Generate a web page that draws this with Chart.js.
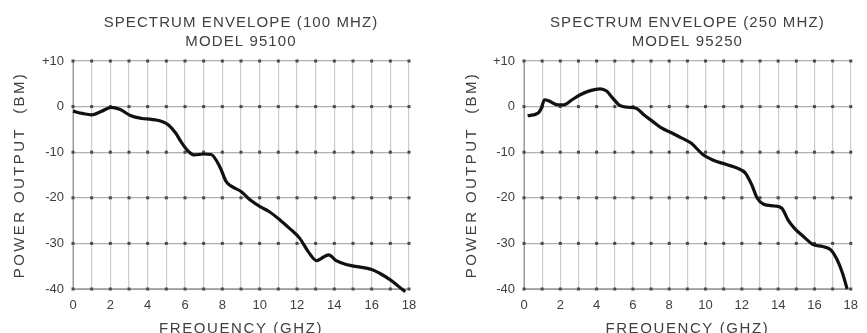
<!DOCTYPE html>
<html>
<head>
<meta charset="utf-8">
<script src="https://cdn.jsdelivr.net/npm/chart.js@4/dist/chart.umd.min.js"></script>
<style>
  html, body { margin: 0; padding: 0; background: #fff; overflow: hidden; width: 867px; height: 333px; }
  canvas { position: absolute; top: 0; }
</style>
</head>
<body>
<canvas id="c1" width="434" height="333" style="left:0px"></canvas>
<canvas id="c2" width="434" height="333" style="left:433px"></canvas>
<script>
// ---- data ----
const freqLeft = [0, 0.5, 1.0, 1.5, 2.05, 2.5, 3.1, 3.7, 4.2, 4.8, 5.1, 5.5, 5.8, 6.2, 6.5, 7.0, 7.4, 7.9, 8.2, 8.5, 9.0, 9.5, 10.0, 10.5, 11.1, 11.6, 12.15, 12.6, 13.05, 13.3, 13.7, 14.1, 14.7, 15.2, 16.0, 16.45, 17.0, 17.35, 17.8];
const powerLeft = [-1.0, -1.5, -1.8, -1.1, -0.15, -0.6, -2.0, -2.6, -2.8, -3.3, -4.0, -5.8, -7.8, -9.9, -10.6, -10.4, -10.5, -13.5, -16.4, -17.5, -18.6, -20.5, -21.9, -23.0, -24.9, -26.7, -28.9, -31.8, -33.8, -33.3, -32.5, -33.8, -34.7, -35.1, -35.7, -36.6, -38.0, -39.1, -40.6];

const freqRight = [0.2, 0.75, 0.95, 1.13, 1.4, 1.85, 2.2, 2.65, 3.1, 3.65, 4.2, 4.55, 4.9, 5.3, 5.75, 6.2, 6.6, 7.1, 7.5, 8.15, 8.7, 9.2, 9.85, 10.4, 11.15, 11.75, 12.2, 12.55, 12.85, 13.2, 13.8, 14.2, 14.55, 14.9, 15.45, 15.9, 16.45, 16.9, 17.25, 17.55, 17.8];
const powerRight = [-2.0, -1.5, -0.4, 1.5, 1.2, 0.4, 0.4, 1.5, 2.6, 3.5, 3.9, 3.4, 1.8, 0.2, -0.15, -0.4, -1.8, -3.3, -4.5, -5.8, -6.9, -8.0, -10.5, -11.7, -12.7, -13.5, -14.6, -17.2, -20.1, -21.4, -21.8, -22.3, -24.9, -26.7, -28.7, -30.2, -30.7, -31.4, -33.6, -36.6, -40.0];

const xTickLabels = ['0', '', '2', '', '4', '', '6', '', '8', '', '10', '', '12', '', '14', '', '16', '', '18'];
const yTickLabels = ['-40', '-30', '-20', '-10', '0', '+10'];

const titleLeft = ['SPECTRUM ENVELOPE (100 MHZ)', 'MODEL 95100'];
const titleRight = ['SPECTRUM ENVELOPE (250 MHZ)', 'MODEL 95250'];
const xAxisTitle = 'FREQUENCY (GHZ)';
const yAxisTitle = 'POWER OUTPUT  (BM)';

const FONT = '"Liberation Sans", Arial, sans-serif';
const TEXT = '#404040';

// draws chart titles, axis titles and grid-intersection dots
const decor = {
  id: 'decor',
  beforeDatasetsDraw(chart, args, o) {
    const ctx = chart.ctx, xs = chart.scales.x, ys = chart.scales.y;
    ctx.save();
    ctx.fillStyle = '#4a4a4a';
    ys.ticks.forEach(ty => {
      const py = ys.getPixelForValue(ty.value);
      xs.ticks.forEach(tx => {
        const px = xs.getPixelForValue(tx.value);
        ctx.fillRect(px - 1.5, py - 1.5, 3, 3);
      });
    });
    ctx.restore();
  },
  afterDraw(chart, args, o) {
    const ctx = chart.ctx, a = chart.chartArea;
    ctx.save();
    ctx.fillStyle = TEXT;
    ctx.textAlign = 'center';
    ctx.textBaseline = 'middle';
    const cx = (a.left + a.right) / 2;
    ctx.font = '15px ' + FONT;
    ctx.letterSpacing = '1.1px';
    ctx.fillText(o.title[0], cx, 23);
    ctx.fillText(o.title[1], cx, 42);
    ctx.letterSpacing = '1.6px';
    ctx.fillText(xAxisTitle, cx, a.bottom + 40);
    ctx.letterSpacing = '2.4px';
    ctx.translate(o.yTitleX, (a.top + a.bottom) / 2);
    ctx.rotate(-Math.PI / 2);
    ctx.fillText(yAxisTitle, 0, 0);
    ctx.restore();
  }
};

function makeChart(id, freq, power, title, yWidth, padRight, yTitleX) {
  return new Chart(document.getElementById(id), {
    type: 'line',
    data: {
      datasets: [{
        data: freq.map((f, i) => ({ x: f, y: power[i] })),
        borderColor: '#111',
        borderWidth: 3.2,
        pointRadius: 0,
        cubicInterpolationMode: 'monotone',
        fill: false,
        clip: false
      }]
    },
    options: {
      responsive: false,
      devicePixelRatio: 1,
      animation: false,
      layout: { padding: { left: 0, right: padRight, top: 61, bottom: 0 } },
      plugins: {
        legend: { display: false },
        tooltip: { enabled: false },
        title: { display: false },
        decor: { title: title, yTitleX: yTitleX }
      },
      scales: {
        x: {
          type: 'linear', min: 0, max: 18,
          afterFit: s => { s.height = 44; },
          ticks: {
            stepSize: 1, autoSkip: false, maxRotation: 0, padding: 9,
            color: TEXT, font: { family: FONT, size: 13 },
            callback: (v, i) => xTickLabels[i]
          },
          grid: { color: '#cdcdcd', lineWidth: 1.2, drawTicks: false },
          border: { color: '#9a9a9a', width: 1 }
        },
        y: {
          min: -40, max: 10,
          afterFit: s => { s.width = yWidth; },
          ticks: {
            stepSize: 10, padding: 9,
            color: TEXT, font: { family: FONT, size: 13 },
            callback: (v, i) => yTickLabels[i]
          },
          grid: { color: '#b0b0b0', lineWidth: 1.2, drawTicks: false },
          border: { color: '#9a9a9a', width: 1 }
        }
      }
    },
    plugins: [decor]
  });
}

makeChart('c1', freqLeft, powerLeft, titleLeft, 73, 25, 20);
makeChart('c2', freqRight, powerRight, titleRight, 91, 10, 39);
</script>
</body>
</html>
